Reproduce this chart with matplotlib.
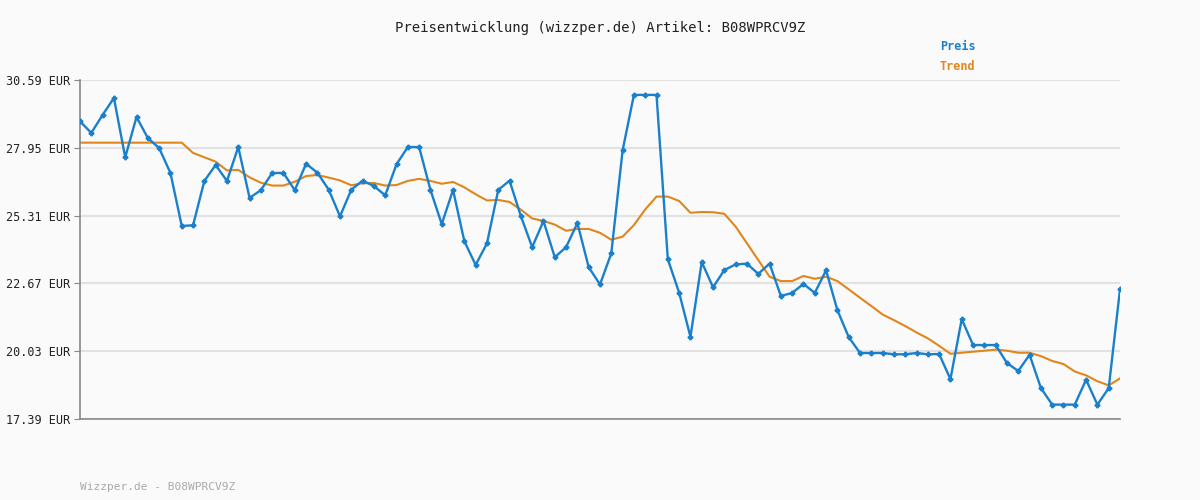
import matplotlib
matplotlib.use("Agg")
import matplotlib.pyplot as plt

# Preis (EUR)
preis = [
    28.98, 28.53, 29.23, 29.89, 27.58, 29.15, 28.33, 27.94, 26.97, 24.91,
    24.93, 26.66, 27.28, 26.66, 27.98, 26.00, 26.30, 26.97, 26.97, 26.30,
    27.33, 26.98, 26.32, 25.28, 26.32, 26.67, 26.46, 26.10, 27.31, 27.98,
    27.98, 26.31, 24.98, 26.31, 24.31, 23.39, 24.23, 26.31, 26.67, 25.29,
    24.08, 25.10, 23.69, 24.08, 25.02, 23.30, 22.63, 23.84, 27.85, 30.01,
    30.01, 30.01, 23.61, 22.31, 20.59, 23.50, 22.52, 23.19, 23.41, 23.44,
    23.04, 23.44, 22.18, 22.30, 22.65, 22.30, 23.18, 21.63, 20.58, 19.96,
    19.96, 19.96, 19.91, 19.91, 19.96, 19.91, 19.92, 18.94, 21.28, 20.27,
    20.27, 20.27, 19.57, 19.26, 19.89, 18.60, 17.95, 17.95, 17.95, 18.92,
    17.95, 18.59, 22.44,
]
trend = [28.15] * 10 + [
    27.75, 27.58, 27.41, 27.07, 27.09, 26.80, 26.59, 26.48, 26.48, 26.63,
    26.85, 26.89, 26.79, 26.68, 26.49, 26.57, 26.58, 26.48, 26.50, 26.66,
    26.74, 26.66, 26.55, 26.62, 26.41, 26.14, 25.90, 25.92, 25.84, 25.54,
    25.20, 25.10, 24.96, 24.72, 24.79, 24.79, 24.64, 24.37,
    24.49, 24.94, 25.55, 26.05, 26.05, 25.88, 25.42, 25.45, 25.44, 25.38,
    24.88, 24.23, 23.58, 22.93, 22.76, 22.76, 22.96, 22.85, 22.93, 22.76,
    22.44, 22.11, 21.79, 21.46, 21.24, 21.01, 20.76, 20.53, 20.24, 19.93,
    19.97, 20.01, 20.05, 20.09, 20.05, 19.97, 19.97, 19.84, 19.65, 19.53,
    19.24, 19.09, 18.86, 18.70, 18.97,
]
y_ticks = [17.39, 20.03, 22.67, 25.31, 27.95, 30.59]

BLUE = "#1a80cc"
ORANGE = "#e0861a"
BG = "#fafafa"
plt.rcParams["font.family"] = "DejaVu Sans Mono"

fig = plt.figure(figsize=(12, 5), dpi=100, facecolor=BG)
ax = fig.add_axes([80 / 1200, 1 - 419 / 500, 1040 / 1200, 339 / 500], facecolor=BG)

x = list(range(len(preis)))
ax.plot(x, trend, color=ORANGE, lw=1.5, zorder=2)
ax.plot(x, preis, color=BLUE, lw=1.7, marker="P", ms=3.2, zorder=3)

ax.set_xlim(0, len(preis) - 1)
ax.set_ylim(y_ticks[0], y_ticks[-1])
ax.set_yticks(y_ticks)
ax.set_yticklabels([f"{v:.2f} EUR" for v in y_ticks], fontsize=8.5, color="#222222")
ax.set_xticks([])
ax.tick_params(axis="y", length=4, color="#888888", pad=3)
ax.grid(axis="y", color="#e2e2e2", lw=1.5)
ax.set_axisbelow(True)
for s in ["top", "right"]:
    ax.spines[s].set_visible(False)
for s in ["left", "bottom"]:
    ax.spines[s].set_color("#888888")
    ax.spines[s].set_linewidth(1.2)

fig.text(0.5, 1 - 28 / 500, "Preisentwicklung (wizzper.de) Artikel: B08WPRCV9Z",
         ha="center", va="center", fontsize=10, color="#222222")
fig.text(940 / 1200, 1 - 47 / 500, "Preis", color=BLUE, fontsize=8.5, fontweight="bold", va="center")
fig.text(940 / 1200, 1 - 67 / 500, "Trend", color=ORANGE, fontsize=8.5, fontweight="bold", va="center")
fig.text(80 / 1200, 1 - 487 / 500, "Wizzper.de - B08WPRCV9Z", color="#aaaaaa", fontsize=8, va="center")

fig.savefig("out.png", dpi=100, facecolor=BG)
